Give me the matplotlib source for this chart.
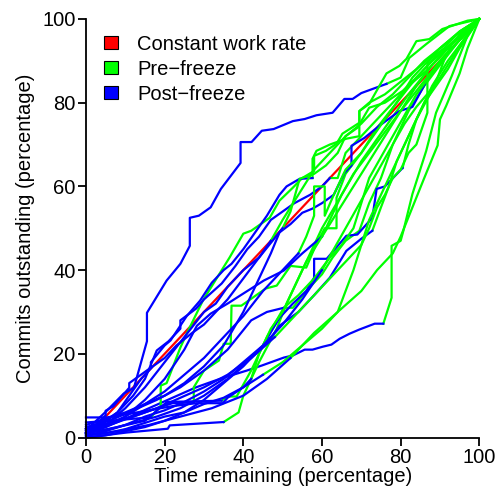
import numpy as np
import matplotlib
matplotlib.use('Agg')
import matplotlib.pyplot as plt
from matplotlib.patches import Patch

plt.rcParams['font.family'] = ['Liberation Sans', 'DejaVu Sans']

# Time remaining (%) vs commits outstanding (%) per project
proj_x = [
    [0, 5.3, 9.6, 12.2, 15.5, 15.5, 20.5, 24, 26.4, 26.4, 28.7, 31.7, 34.3, 39.3, 39.3, 42.1, 44.7, 47.7,
     52.6, 55.6, 58.6, 62.7, 65.7, 67.8, 70, 76.4, 80, 82.2, 86.5, 92.4, 100],
    [0, 5, 10, 16, 22, 28, 34, 40.9, 44.7, 50.3, 52.6, 55.6, 57.6, 60.2, 62.4, 64.5, 67, 69.5, 73.4, 75.6,
     77.7, 77.7, 80, 80.7, 83, 86.5, 89, 93, 97, 100],
    [0, 10.4, 20.8, 21.3, 35, 38.8, 40, 44, 48.5, 51, 55, 60, 65, 70, 76, 82, 88, 94, 100],
    [0, 6, 12.2, 16.5, 19, 19, 20.5, 24, 25.6, 29.7, 36.5, 40, 42, 46.7, 49.2, 52.6, 55, 58, 58, 61, 63.7,
     65.2, 69.5, 69.5, 72, 76.4, 79.7, 81.5, 84, 87.3, 90.6, 97, 100],
    [0, 8, 15, 20.6, 34.5, 36, 38.3, 42, 46, 50.3, 52.6, 56, 60, 62.7, 66, 69.5, 72, 75, 78, 82, 86, 90,
     95, 100],
    [0, 6, 12, 18, 22, 27.4, 27.4, 30, 33.8, 35, 36.8, 37, 39.5, 45.7, 48.5, 52, 56, 58.6, 60.7, 63.7,
     63.7, 66, 70, 74, 79, 84, 89, 94, 100],
    [0, 5, 5, 7, 11, 11, 16.5, 16.5, 20, 21.5, 25.6, 29, 32, 35, 37, 40, 43, 46, 49.2, 51, 54.3, 57.6,
     57.6, 58.6, 62, 66.2, 69.5, 69.5, 72, 76, 80, 84, 90, 95, 100],
    [0, 4, 8, 12, 15, 18, 21, 24, 24, 28, 30, 34.5, 38, 41, 44, 47, 50, 53, 57, 60, 62, 64, 66, 70, 74,
     78, 82, 87, 92, 96, 100],
    [0, 5, 10, 15, 20, 25, 30, 35, 40, 45, 49.2, 52.6, 56, 58, 58, 61.2, 66.2, 69, 72.8, 73.9, 76, 80.5,
     82, 84, 86, 89, 92, 95, 100],
    [0, 6, 12, 18, 24, 30, 36, 42, 46, 49.2, 54, 58, 62, 66.2, 70, 72.8, 75, 77, 79, 82, 85, 88, 92, 96,
     100],
    [0, 5, 10, 15, 20, 25, 30, 35, 40, 44, 47, 49.2, 52, 55, 57.6, 60, 63, 65.7, 67.5, 67.5, 70.8, 74.6,
     79.7, 83, 87.3, 90, 94, 97, 100],
    [0, 5, 10, 15, 20, 25, 28.2, 31.7, 36, 40, 45.2, 50.3, 55, 60, 62, 65, 68, 72, 76, 80, 84, 88, 92,
     96, 100],
    [0, 6, 12, 18, 24, 30, 36, 42, 46, 50.3, 54, 58, 62, 65, 68, 70, 72, 75, 78, 81, 84, 88, 92, 96, 100],
    [0, 5.3, 10, 16, 22, 28, 34.8, 36, 40, 42, 44, 47, 50, 53, 56, 60, 64, 68, 72, 76, 80, 85, 90, 95,
     100],
    [0, 5, 10, 15, 20, 25, 30, 35, 40, 45, 50, 55, 60, 64, 66, 68, 70, 72, 75, 78, 81, 84, 88, 92, 96,
     100],
    [0, 4, 8, 11, 14, 17, 20, 23, 27, 30, 33, 36, 40, 44, 47, 50, 54, 58, 62, 66, 70, 74, 78, 82, 86, 90,
     95, 100],
    [0, 5, 10, 15, 20, 25, 30, 33, 36, 40, 44, 47, 50, 52, 54.3, 58, 61, 64, 66, 69, 72, 76, 80.5, 84,
     88, 92, 96, 100],
    [0, 5, 10, 15, 20, 25, 30, 35, 40, 45, 50, 55, 60, 63, 66, 69, 72, 75, 78, 81, 84, 88, 89.4, 91, 93,
     96, 100],
    [0, 6, 12, 18, 24, 30, 36, 42, 48, 54, 58, 62, 66, 70, 72, 74, 76, 78, 80, 82, 84, 86.8, 86.8, 90, 94,
     100],
    [0, 8, 16, 24, 32, 40, 46, 52, 58, 64, 70, 74, 78, 80, 83, 86, 89.4, 90, 91.6, 95, 97, 100],
    [0, 5, 10, 15, 20, 25, 30, 35, 40, 45, 50, 54, 56, 58, 58, 60.7, 60.7, 63, 66, 70, 73, 76, 79, 83, 87,
     91, 95, 100],
]
proj_y = [
    [1.7, 6.4, 10.5, 11.9, 23, 29.8, 37.5, 41.5, 45.8, 52.5, 53, 55, 59.4, 65.6, 70.6, 70.6, 73.3, 73.7,
     75.6, 76.1, 77, 77.6, 80.9, 80.9, 82.3, 84.5, 86, 90.7, 94, 98.3, 100],
    [1, 2.5, 4.5, 7, 9.5, 12, 14, 16, 17.2, 19.1, 19.6, 21, 21, 21.7, 22.2, 23.6, 24.8, 25.8, 27.2, 27.2,
     33.4, 45.8, 47, 49.4, 58.2, 68.5, 77.6, 86.4, 96, 100],
    [0, 1.2, 2.1, 2.9, 3.7, 6, 10, 18, 26, 32, 40, 50, 58, 66, 74, 82, 89, 95, 100],
    [3.6, 4, 4.5, 4.8, 7.6, 12.4, 13, 21.5, 24.8, 32.7, 43, 48.7, 49.4, 52.5, 56.6, 59.7, 62, 63.7, 67.3,
     68.5, 70.2, 72.6, 75.2, 78, 79.7, 87, 88.8, 90.5, 94.7, 95.2, 97.6, 99.6, 100],
    [1, 2.5, 4, 8.5, 8.8, 9.8, 9.8, 16, 24, 31, 31, 35, 39, 43, 47, 49.4, 56, 62, 70, 78, 84, 89, 95,
     100],
    [2, 3.5, 5, 7, 8.2, 8.4, 12, 16, 18.4, 22.4, 22.4, 31.5, 31.5, 35.6, 36.3, 41, 40.6, 46.3, 50, 50,
     57.3, 63, 68, 74, 80, 86, 91, 95, 100],
    [1, 5.3, 6.4, 7.5, 11.9, 13, 16.7, 18, 22, 23.2, 29, 32.7, 37, 40, 41.5, 45, 49, 53, 58, 60, 61.8,
     62, 66.6, 68.5, 70, 71.4, 72, 78, 80, 82, 85, 88, 93, 97, 100],
    [2, 3.5, 6, 10, 14, 20.8, 23, 26, 28, 30.8, 33, 36.8, 41, 45, 48, 52, 54, 56, 58, 60, 62, 62, 68,
     72, 76, 80, 84, 88, 93, 97, 100],
    [0.5, 1.5, 3, 5, 6.5, 8.5, 11, 14, 18, 22, 28.6, 32, 35, 38.2, 42.7, 42.7, 48.2, 48.5, 52.5, 59.4,
     60, 64.4, 70, 76, 80, 84, 88, 93, 100],
    [1.5, 3, 5, 7, 9.5, 12, 15, 19, 22.5, 26.7, 30, 34, 38.2, 44.6, 47.5, 49.4, 55, 60, 66, 72, 78, 84,
     90, 95, 100],
    [3, 4.5, 6, 8, 10, 13, 17, 22, 30, 38, 44, 49, 51, 53.7, 54.7, 56, 58, 63.2, 65, 69.7, 71.6, 74.5,
     78, 79, 86.4, 90, 94, 97, 100],
    [1, 2.5, 5, 9, 14, 21, 26.7, 29.6, 32, 34.4, 37.5, 39.9, 44, 48, 52, 58, 63, 68, 73, 78, 84, 89, 93,
     97, 100],
    [2.5, 4, 6.5, 9, 12, 16, 21, 28, 30, 31, 34, 38, 43, 46, 50, 56, 62, 67, 72, 77, 82, 87, 92, 96, 100],
    [4.8, 4.8, 5.5, 6.5, 7.5, 8.2, 8.2, 9.5, 12, 14, 20, 26, 30, 36, 42, 48, 54, 60, 66, 72, 78, 84, 90,
     95, 100],
    [0.5, 1, 2, 3.5, 5, 6, 8, 9.5, 12, 15, 18, 22, 26, 30, 35, 40, 46, 52, 58, 64, 70, 76, 83, 89, 95,
     100],
    [2, 3, 6, 10, 14, 17, 19, 22, 25, 27, 30, 33, 38, 43, 47, 52, 58, 64, 68, 72, 75, 79, 82, 86, 90, 93,
     97, 100],
    [1.2, 3, 7, 12, 18, 24, 30, 32, 36, 40, 43, 46.5, 50, 54, 61.8, 63, 65, 68, 72, 74, 78.8, 80, 82.8,
     86, 90, 93, 97, 100],
    [0, 0.5, 1.5, 2.5, 4, 6, 9, 13, 17, 22, 27, 33, 40, 45, 50, 55, 60, 65, 70, 75, 79, 83.4, 86, 90, 94,
     97, 100],
    [1, 2, 3.5, 5, 7, 10, 14, 19, 24, 30, 34, 38, 42, 46, 50, 55, 58, 62, 64, 68, 70, 77.6, 89.5, 93, 96,
     100],
    [0.5, 1.5, 3, 5, 7, 10, 14, 19, 25, 30, 35, 40, 44, 48, 55, 62, 69.8, 76, 79.3, 87, 93, 100],
    [2, 3, 5, 8, 11, 15, 19, 24, 29, 35, 40, 44, 48, 53, 60, 60, 53, 58, 64, 68, 72, 76, 80, 86, 90, 93,
     97, 100],
]
# Time remaining at each project's freeze: green before, blue after
freeze_x = [76.4, 75.6, 35, 16.5, 34.5, 27.4, 57.6, 62, 80.5, 72.8, 87.3, 60, 50.3, 42, 45, 47, 50, 60,
            48, 52, 54]

labels = ['Constant work rate', 'Pre\u2212freeze', 'Post\u2212freeze']
colors = ['#ff0000', '#00ff00', '#0000ff']

fig = plt.figure(figsize=(4.97, 4.87), dpi=100)
ax = fig.add_axes([0.173, 0.1016, 0.7914, 0.8594])

ax.plot([0, 100], [0, 100], color=colors[0], lw=1.6, zorder=1, clip_on=False)
for xs, ys, fx in zip(proj_x, proj_y, freeze_x):
    xs = np.array(xs)
    ys = np.array(ys)
    k = int(np.searchsorted(xs, fx))
    ax.plot(xs[k:], ys[k:], color=colors[1], lw=1.6, clip_on=False)
    ax.plot(xs[:k + 1], ys[:k + 1], color=colors[2], lw=1.6, clip_on=False)

ax.set_xlim(0, 100)
ax.set_ylim(0, 100)
ax.set_xticks(range(0, 101, 20))
ax.set_yticks(range(0, 101, 20))
for s in ['top', 'right']:
    ax.spines[s].set_visible(False)
for s in ['left', 'bottom']:
    ax.spines[s].set_linewidth(1.3)
ax.tick_params(direction='out', length=5.5, width=1.3, labelsize=14.5, pad=2)

ax.set_xlabel('Time remaining (percentage)', fontsize=14.5, labelpad=0)
ax.set_ylabel('Commits outstanding (percentage)', fontsize=14.5, labelpad=5)

handles = [Patch(facecolor=c, edgecolor='black', lw=0.8) for c in colors]
ax.legend(handles, labels, loc='upper left', bbox_to_anchor=(0.046, 0.962), frameon=False,
          fontsize=14.5, borderaxespad=0, borderpad=0, handlelength=0.69, handleheight=0.6,
          handletextpad=0.95, labelspacing=0.29)

fig.savefig('out.png', dpi=100)
